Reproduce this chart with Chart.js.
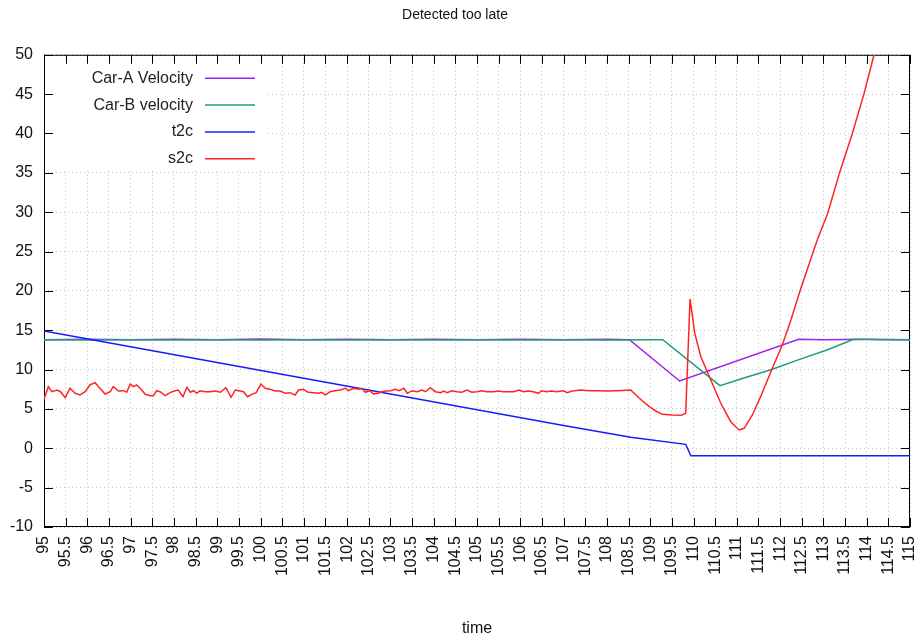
<!DOCTYPE html>
<html lang="en">
<head>
    <meta charset="UTF-8">
    <title>Detected too late</title>
    <script src="https://cdn.jsdelivr.net/npm/chart.js"></script>
    <style>
        body { margin: 0; background: #fff; }
    </style>
</head>
<body>
    <div style="width: 922px; height: 644px;">
        <canvas id="myChart"></canvas>
    </div>

    <script>
        // tick labels
        const xTickValues = [95, 95.5, 96, 96.5, 97, 97.5, 98, 98.5, 99, 99.5, 100, 100.5, 101, 101.5, 102, 102.5,
            103, 103.5, 104, 104.5, 105, 105.5, 106, 106.5, 107, 107.5, 108, 108.5, 109, 109.5, 110, 110.5,
            111, 111.5, 112, 112.5, 113, 113.5, 114, 114.5, 115];
        const yTickValues = [-10, -5, 0, 5, 10, 15, 20, 25, 30, 35, 40, 45, 50];

        // Car-A Velocity
        const carATime = [95, 96, 97, 98, 99, 100, 101, 102, 103, 104, 105, 106, 107, 108, 108.52, 109.68, 112.43, 113, 114, 115];
        const carAVel = [13.8, 13.85, 13.8, 13.85, 13.8, 13.9, 13.8, 13.85, 13.8, 13.85, 13.8, 13.85, 13.8, 13.85, 13.8, 8.55, 13.85, 13.8, 13.85, 13.8];

        // Car-B velocity
        const carBTime = [95, 96, 97, 98, 99, 100, 101, 102, 103, 104, 105, 106, 107, 108, 109, 109.29, 110.61, 111.2, 111.77, 112.45, 113.08, 113.7, 114.3, 115];
        const carBVel = [13.8, 13.75, 13.8, 13.75, 13.8, 13.75, 13.8, 13.75, 13.8, 13.75, 13.8, 13.75, 13.8, 13.75, 13.8, 13.8, 7.96, 9.0, 9.95, 11.3, 12.5, 13.85, 13.8, 13.8];

        // t2c
        const t2cTime = [95, 97, 99, 101, 103, 105, 107, 108.55, 109.82, 109.94, 115];
        const t2cVal = [14.9, 12.9, 10.9, 8.9, 6.9, 4.9, 2.9, 1.4, 0.5, -0.95, -0.95];

        // s2c
        const s2cTime = [95, 95.1, 95.18, 95.3, 95.38, 95.49, 95.6, 95.72, 95.83, 95.95, 96.06, 96.18, 96.29, 96.41, 96.53,
            96.6, 96.72, 96.84, 96.91, 96.99, 97.07, 97.14, 97.22, 97.34, 97.45, 97.53, 97.6, 97.68, 97.8, 97.91,
            98.03, 98.1, 98.21, 98.3, 98.38, 98.45, 98.53, 98.6, 98.72, 98.84, 98.95, 99.07, 99.2, 99.32, 99.42,
            99.53, 99.61, 99.7, 99.8, 99.9, 100.01, 100.11, 100.22, 100.34, 100.45, 100.57, 100.68, 100.8, 100.88,
            100.99, 101.1, 101.22, 101.34, 101.41, 101.5, 101.61, 101.72, 101.84, 101.96, 102.03, 102.15, 102.26,
            102.34, 102.42, 102.52, 102.61, 102.72, 102.8, 102.91, 103, 103.12, 103.2, 103.31, 103.39, 103.5,
            103.62, 103.73, 103.81, 103.92, 104.04, 104.16, 104.23, 104.31, 104.42, 104.54, 104.65, 104.77, 104.88,
            105, 105.11, 105.23, 105.38, 105.5, 105.61, 105.73, 105.84, 105.98, 106.07, 106.19, 106.3, 106.42,
            106.49, 106.61, 106.72, 106.84, 107, 107.08, 107.2, 107.4, 107.6, 107.8, 108, 108.2, 108.35, 108.55,
            108.75, 108.98, 109.13, 109.28, 109.51, 109.72, 109.82, 109.92, 110.03, 110.17, 110.4, 110.63, 110.86,
            111.05, 111.17, 111.36, 111.55, 111.82, 112.05, 112.25, 112.48, 112.86, 113.1, 113.37, 113.67, 113.94, 114.17];
        const s2cVal = [6.23, 7.83, 7.19, 7.41, 7.19, 6.43, 7.63, 6.99, 6.78, 7.19, 8.05, 8.34, 7.63, 6.9, 7.19,
            7.83, 7.28, 7.32, 7.12, 8.14, 7.83, 8.05, 7.63, 6.86, 6.69, 6.69, 7.32, 7.19, 6.69, 7.07,
            7.32, 7.41, 6.56, 7.75, 7.12, 7.32, 6.99, 7.32, 7.19, 7.19, 7.28, 7.12, 7.7, 6.48, 7.41,
            7.28, 7.19, 6.56, 6.86, 7.07, 8.14, 7.63, 7.5, 7.28, 7.28, 6.99, 7.07, 6.78, 7.41,
            7.5, 7.12, 7.07, 6.99, 7.12, 6.78, 7.19, 7.32, 7.41, 7.63, 7.32, 7.63, 7.5,
            7.63, 7.12, 7.32, 6.9, 6.99, 7.19, 7.28, 7.32, 7.5, 7.32, 7.63, 6.99, 7.32,
            7.19, 7.41, 7.19, 7.7, 7.19, 7.07, 7.28, 7.07, 7.32, 7.19, 7.12, 7.41, 7.12,
            7.19, 7.32, 7.19, 7.19, 7.28, 7.19, 7.19, 7.19, 7.41, 7.19, 7.28, 7.19, 6.99,
            7.32, 7.19, 7.28, 7.19, 7.3, 7.07, 7.28, 7.41, 7.32, 7.32, 7.28, 7.32, 7.36, 7.41,
            6.36, 5.29, 4.74, 4.32, 4.23, 4.19, 4.45, 18.98, 14.6, 11.64, 8.68, 5.72, 3.38,
            2.33, 2.54, 4.23, 6.56, 10.17, 13.13, 16.3, 20.34, 26.5, 29.87, 34.96, 40.04, 45.1, 50];

        const toPoints = (xs, ys) => xs.map((x, i) => ({ x: x, y: ys[i] }));

        // gnuplot style: key top-left with blank box, frame with inward tics
        const gnuplotLook = {
            id: 'gnuplotLook',
            beforeDatasetsDraw(chart) {
                const ctx = chart.ctx;
                const a = chart.chartArea;
                const xs = chart.scales.x;
                const ys = chart.scales.y;
                ctx.save();
                // key area is opaque
                ctx.fillStyle = '#fff';
                ctx.fillRect(a.left + 1, a.top + 1, 220, 114);

                // frame
                ctx.strokeStyle = '#000';
                ctx.lineWidth = 1;
                ctx.strokeRect(a.left + 0.5, a.top + 0.5, a.right - a.left - 1, a.bottom - a.top - 1);

                // inward tics
                ctx.beginPath();
                xTickValues.forEach(v => {
                    const px = Math.round(xs.getPixelForValue(v)) + 0.5;
                    ctx.moveTo(px, a.bottom);
                    ctx.lineTo(px, a.bottom - 9);
                    ctx.moveTo(px, a.top);
                    ctx.lineTo(px, a.top + 9);
                });
                yTickValues.forEach(v => {
                    const py = Math.round(ys.getPixelForValue(v)) + 0.5;
                    ctx.moveTo(a.left, py);
                    ctx.lineTo(a.left + 9, py);
                    ctx.moveTo(a.right, py);
                    ctx.lineTo(a.right - 9, py);
                });
                ctx.stroke();

                // key
                ctx.font = '16px "Liberation Sans", Arial, sans-serif';
                ctx.textAlign = 'right';
                ctx.textBaseline = 'middle';
                chart.data.datasets.forEach((ds, i) => {
                    const y = a.top + 23.5 + i * 26.8;
                    ctx.fillStyle = '#222';
                    ctx.fillText(ds.label, a.left + 149, y);
                    ctx.strokeStyle = ds.borderColor;
                    ctx.lineWidth = 1.5;
                    ctx.beginPath();
                    ctx.moveTo(a.left + 161, y);
                    ctx.lineTo(a.left + 211, y);
                    ctx.stroke();
                });
                ctx.restore();
            }
        };

        const tickFont = { family: '"Liberation Sans", Arial, sans-serif', size: 16 };

        const ctx = document.getElementById('myChart').getContext('2d');
        const myChart = new Chart(ctx, {
            type: 'line',
            data: {
                datasets: [
                    { label: 'Car-A Velocity', data: toPoints(carATime, carAVel), borderColor: '#a020f0', order: 4 },
                    { label: 'Car-B velocity', data: toPoints(carBTime, carBVel), borderColor: '#1f9e78', order: 3 },
                    { label: 't2c', data: toPoints(t2cTime, t2cVal), borderColor: '#1a1aff', order: 2 },
                    { label: 's2c', data: toPoints(s2cTime, s2cVal), borderColor: '#ff2424', order: 1 }
                ]
            },
            options: {
                responsive: true,
                maintainAspectRatio: false,
                animation: false,
                layout: { padding: { left: 0, right: 12, top: 0, bottom: 0 } },
                elements: {
                    point: { radius: 0 },
                    line: { borderWidth: 1.5, tension: 0, fill: false }
                },
                scales: {
                    x: {
                        type: 'linear',
                        min: 95,
                        max: 115,
                        afterBuildTicks: s => { s.ticks = xTickValues.map(v => ({ value: v })); },
                        afterFit: s => { s.height = 117; s.paddingLeft = 0; s.paddingRight = 0; },
                        grid: { color: '#c4c4c4', lineWidth: 1, drawTicks: false },
                        border: { display: false, dash: [1, 3] },
                        ticks: {
                            autoSkip: false,
                            minRotation: 90,
                            maxRotation: 90,
                            padding: 9,
                            color: '#111',
                            font: tickFont,
                            callback: v => String(v)
                        },
                        title: {
                            display: true,
                            text: 'time',
                            color: '#111',
                            font: tickFont,
                            padding: { top: 0, bottom: 6 }
                        }
                    },
                    y: {
                        min: -10,
                        max: 50,
                        afterBuildTicks: s => { s.ticks = yTickValues.map(v => ({ value: v })); },
                        afterFit: s => { s.width = 44; s.paddingTop = 0; s.paddingBottom = 0; },
                        grid: { color: '#c4c4c4', lineWidth: 1, drawTicks: false },
                        border: { display: false, dash: [1, 3] },
                        ticks: {
                            padding: 11,
                            color: '#111',
                            font: tickFont,
                            callback: v => String(v)
                        }
                    }
                },
                plugins: {
                    legend: { display: false },
                    tooltip: { enabled: false },
                    title: {
                        display: true,
                        text: 'Detected too late',
                        color: '#111',
                        font: { family: '"Liberation Sans", Arial, sans-serif', size: 14, weight: 'normal' },
                        padding: { top: 7, bottom: 31 }
                    }
                }
            },
            plugins: [gnuplotLook]
        });
    </script>
</body>
</html>
